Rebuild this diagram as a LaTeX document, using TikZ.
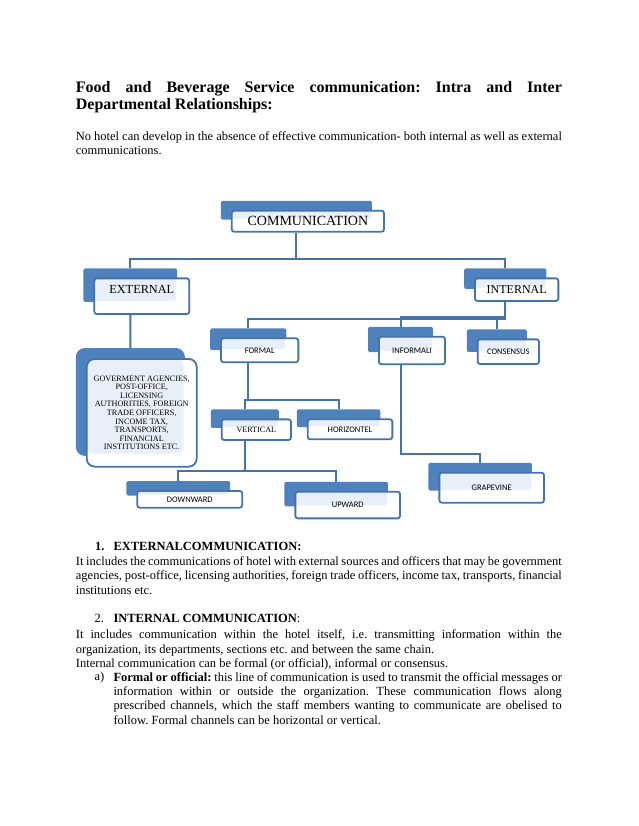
\documentclass[tikz,border=0pt]{standalone}
\usepackage{fontspec}
\setmainfont{Liberation Serif}
\newfontfamily\calfont{Carlito}
\usetikzlibrary{backgrounds,fit}
\definecolor{boxBlue}{RGB}{79,129,189}
\definecolor{boxEdge}{RGB}{68,114,172}
\definecolor{boxTint}{RGB}{232,239,248}
\definecolor{lineBlue}{RGB}{70,115,170}
\setlength{\parindent}{0pt}
\frenchspacing
\newcommand{\jl}[2][486pt]{\makebox[#1][s]{#2}}

\begin{document}
\begin{tikzpicture}[x=1pt, y=-1pt,
  unit/.style={draw=boxEdge, line width=1.8pt, rounded corners=2.5pt, fill=white,
    inner sep=0pt, align=center,
    path picture={\fill[boxTint] (path picture bounding box.north west) rectangle
      ([xshift=-13pt,yshift=13pt]path picture bounding box.south east);}},
  back/.style={fill=boxBlue, draw=none, inner sep=0pt, rounded corners=2pt},
  cap/.style={font=\fontsize{#1}{#1}\selectfont},
  tag/.style={font=\calfont\fontsize{8.5}{9}\selectfont},
  link/.style={draw=lineBlue, line width=2pt},
  body/.style={anchor=north west, inner sep=0pt, align=left,
    font=\fontsize{12.5}{14.3}\selectfont},
]
\useasboundingbox (0,0) rectangle (638,826);

% heading and opening line
\node[body, font=\bfseries\fontsize{16}{17.6}\selectfont] (title) at (75.7,80.8) {%
  \jl{Food and Beverage Service communication: Intra and Inter}\\
  Departmental Relationships:};
\node[body] (intro) at (75.7,131.4) {%
  \jl{No hotel can develop in the absence of effective communication- both internal as well as external}\\
  communications.};

% chart boxes
\node[unit, cap=14, minimum width=152.3pt, minimum height=21pt] (comm) at (307.9,221.2) {COMMUNICATION};
\node[unit, cap=12.3, minimum width=95pt, minimum height=35.7pt, text depth=14.5pt] (ext) at (141.8,296.2) {EXTERNAL};
\node[unit, cap=12, minimum width=83.3pt, minimum height=22.7pt] (int) at (516.7,289.7) {INTERNAL};
\node[unit, tag, minimum width=77.3pt, minimum height=24pt] (formal) at (259.7,350.3) {FORMAL};
\node[unit, tag, minimum width=66pt, minimum height=27.6pt] (inf) at (412,350.5) {INFORMALI};
\node[unit, tag, minimum width=61.3pt, minimum height=24.7pt] (cons) at (508.3,351.7) {CONSENSUS};
\node[unit, font=\fontsize{8.2}{8.6}\selectfont, rounded corners=8pt,
  minimum width=110pt, minimum height=107.7pt] (gov) at (141.7,412.8) {%
  GOVERMENT AGENCIES,\\ POST-OFFICE,\\ LICENSING\\ AUTHORITIES, FOREIGN\\
  TRADE OFFICERS,\\ INCOME TAX,\\ TRANSPORTS,\\ FINANCIAL\\ INSTITUTIONS ETC.};
\node[unit, cap=8.1, minimum width=69.3pt, minimum height=20.7pt] (vert) at (256.3,429.7) {VERTICAL};
\node[unit, tag, minimum width=84.7pt, minimum height=20pt] (horiz) at (350,429.3) {HORIZONTEL};
\node[unit, tag, minimum width=105pt, minimum height=16.7pt] (down) at (189.8,499.3) {DOWNWARD};
\node[unit, tag, minimum width=104.7pt, minimum height=26.7pt] (up) at (347.7,505) {UPWARD};
\node[unit, tag, minimum width=104.7pt, minimum height=30pt] (grape) at (491.7,487.7) {GRAPEVINE};

% dark tabs behind the boxes
\begin{scope}[on background layer]
  \foreach \n in {comm,ext,int,formal,inf,cons,vert,horiz,down,up,grape}
    \node[back, fit={([xshift=-10pt,yshift=9pt]\n.north west) ([xshift=-13pt,yshift=13pt]\n.south east)}] (\n-b) {};
  \node[back, rounded corners=9pt,
    fit={([xshift=-10pt,yshift=10pt]gov.north west) ([xshift=-12.7pt,yshift=11.7pt]gov.south east)}] (gov-b) {};
\end{scope}

% connectors
\draw[link] (comm-b |- comm.south) -- ++(0,26.6) -| (ext-b.north);
\draw[link] (comm-b |- comm.south) -- ++(0,26.6) -| (int-b.north);
\draw[link] (ext-b |- ext.south) -- (gov-b.north);
\draw[link] (int-b |- int.south) -- ++(0,15.5) -| (inf-b.north);
\draw[link] (int-b |- int.south) -- ++(0,17) -| (formal-b.north);
\draw[link] (int-b |- int.south) -- ++(0,17) -| (cons-b.north);
\draw[link] (formal-b |- formal.south) -- ++(0,37) -| (vert-b.north);
\draw[link] (formal-b |- formal.south) -- ++(0,37) -| (horiz-b.north);
\draw[link] (vert-b |- vert.south) -- ++(0,30) -| (down-b.north);
\draw[link] (vert-b |- vert.south) -- ++(0,30) -| (up-b.north);
\draw[link] (inf-b |- inf.south) -- ++(0,88.4) -| (grape-b.north);

% 1. external
\node[body, anchor=base west, font=\bfseries\fontsize{12.5}{14.3}\selectfont] (n1) at (95,550.7) {1.};
\node[body, anchor=base west, font=\bfseries\fontsize{12.5}{14.3}\selectfont] (h1) at (113.3,550.7) {EXTERNALCOMMUNICATION:};
\node[body] (p1) at (75.7,556.5) {%
  \jl{It includes the communications of hotel with external sources and officers that may be government}\\
  \jl{agencies, post-office, licensing authorities, foreign trade officers, income tax, transports, financial}\\
  institutions etc.};

% 2. internal
\node[body, anchor=base west] (n2) at (94.3,622.3) {2.};
\node[body, anchor=base west] (h2) at (113.3,622.3) {\textbf{INTERNAL COMMUNICATION}:};
\node[body] (p2) at (75.7,629.7) {%
  \jl{It includes communication within the hotel itself, i.e. transmitting information within the}\\
  organization, its departments, sections etc. and between the same chain.\\
  Internal communication can be formal (or official), informal or consensus.};

% a) formal
\node[body, anchor=base west] (na) at (94.3,680.7) {a)};
\node[body] (pa) at (113.3,672.2) {%
  \jl[448.4pt]{\textbf{Formal or official:} this line of communication is used to transmit the official messages or}\\
  \jl[448.4pt]{information within or outside the organization. These communication flows along}\\
  \jl[448.4pt]{prescribed channels, which the staff members wanting to communicate are obelised to}\\
  follow. Formal channels can be horizontal or vertical.};

\end{tikzpicture}
\end{document}
